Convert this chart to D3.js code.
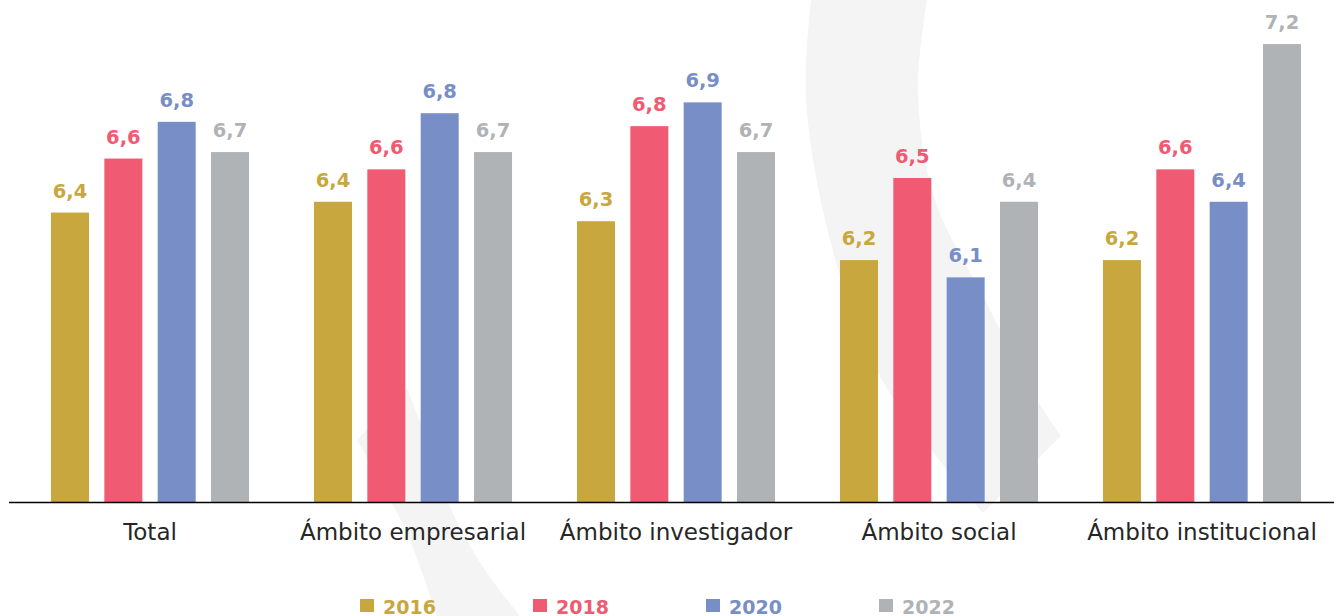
<!DOCTYPE html>
<html>
<head>
<meta charset="utf-8">
<script src="https://cdn.jsdelivr.net/npm/d3@7.9.0/dist/d3.min.js"></script>
<style>
  html, body { margin: 0; padding: 0; background: #fff; }
  svg { display: block; }
  .cat { font-family: "DejaVu Sans", sans-serif; font-size: 23px; fill: #262626; }
  .val { font-family: "DejaVu Sans", sans-serif; font-weight: bold; font-size: 19.5px; }
  .leg { font-family: "DejaVu Sans", sans-serif; font-weight: bold; font-size: 19px; }
</style>
</head>
<body>
<svg id="chart" width="1334" height="616"></svg>
<script>
// data
const categories = ["Total", "Ámbito empresarial", "Ámbito investigador", "Ámbito social", "Ámbito institucional"];
const years = ["2016", "2018", "2020", "2022"];
const values2016 = [6.38, 6.43, 6.34, 6.16, 6.16];
const values2018 = [6.63, 6.58, 6.78, 6.54, 6.58];
const values2020 = [6.80, 6.84, 6.89, 6.08, 6.43];
const values2022 = [6.66, 6.66, 6.66, 6.43, 7.16];
const colors = ["#c9a73f", "#f05a72", "#788ec6", "#b0b3b6"];

const series = [values2016, values2018, values2020, values2022];
const width = 1334, height = 616;
const baseY = 502;

const svg = d3.select("#chart");
svg.append("rect").attr("width", width).attr("height", height).attr("fill", "#fff");

// background decoration (faint band shapes)
const deco = svg.append("g").attr("fill", "#f3f4f3");
const edge = d3.line().curve(d3.curveCatmullRom);
let outerTop = [[811, 0], [806, 98], [829, 236], [878, 373], [983, 513]];
let innerTop = [[1061, 436], [1037, 400], [985, 300], [935, 200], [918, 94], [927, 0]];
deco.append("path").attr("d", edge(outerTop) + "L" + edge(innerTop).slice(1) + "Z");
let leftLow = [[357, 440], [383, 487], [407, 533], [437, 616]];
let rightLow = [[520, 616], [483, 567], [450, 507], [427, 440], [407, 388]];
deco.append("path").attr("d", edge(leftLow) + "L" + edge(rightLow).slice(1) + "Z");

// scales
const x0 = d3.scaleBand().domain(categories).range([51, 1301]).paddingInner(0.247).paddingOuter(0);
const x1 = d3.scaleBand().domain(years).range([0, x0.bandwidth()]).paddingInner(0.2875).paddingOuter(0);
const y = d3.scaleLinear().domain([5.04, 7.2]).range([baseY, baseY - 2.16 * 216]);
const fmt = v => d3.format(".1f")(v).replace(".", ",");

const groups = svg.selectAll("g.grp")
  .data(categories)
  .join("g")
  .attr("class", "grp")
  .attr("transform", d => `translate(${x0(d)},0)`);

groups.each(function (cat, ci) {
  const g = d3.select(this);
  years.forEach((yr, si) => {
    const v = series[si][ci];
    g.append("rect")
      .attr("x", x1(yr))
      .attr("y", y(v))
      .attr("width", x1.bandwidth())
      .attr("height", baseY - y(v))
      .attr("fill", colors[si]);
    g.append("text")
      .attr("class", "val")
      .attr("x", x1(yr) + x1.bandwidth() / 2)
      .attr("y", y(v) - 15)
      .attr("text-anchor", "middle")
      .attr("fill", colors[si])
      .text(fmt(v));
  });
});

// baseline
svg.append("line")
  .attr("x1", 9).attr("x2", width)
  .attr("y1", baseY + 0.5).attr("y2", baseY + 0.5)
  .attr("stroke", "#000").attr("stroke-width", 1.6);

// category labels
svg.selectAll("text.cat")
  .data(categories)
  .join("text")
  .attr("class", "cat")
  .attr("x", d => x0(d) + x0.bandwidth() / 2)
  .attr("y", 540)
  .attr("text-anchor", "middle")
  .text(d => d);

// legend
const legX = d3.scalePoint().domain(years).range([360, 879]);
const leg = svg.selectAll("g.leg")
  .data(years)
  .join("g")
  .attr("transform", d => `translate(${legX(d)},599)`);
leg.append("rect").attr("width", 14).attr("height", 13).attr("fill", (d, i) => colors[i]);
leg.append("text")
  .attr("class", "leg")
  .attr("x", 23)
  .attr("y", 15)
  .attr("fill", (d, i) => colors[i])
  .text(d => d);
</script>
</body>
</html>
